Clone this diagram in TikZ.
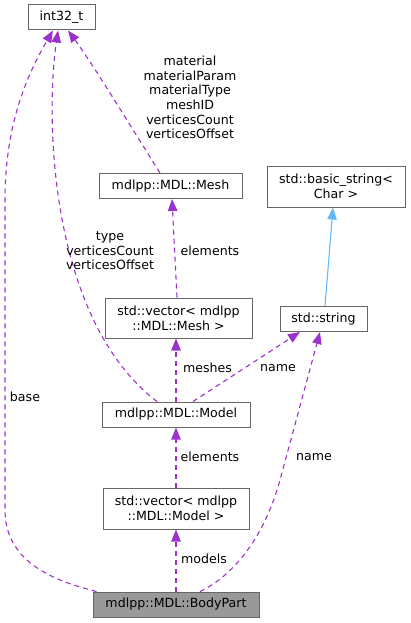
\documentclass[tikz,border=0pt]{standalone}
\usepackage{fontspec}
\setmainfont{DejaVu Sans}
\usepackage{tikz}
\usetikzlibrary{arrows.meta}
\definecolor{edgepurple}{HTML}{9A32CD}
\definecolor{inheritblue}{HTML}{63B8FF}
\definecolor{boxgrey}{HTML}{666666}
\definecolor{currentgrey}{HTML}{999999}

\begin{document}
\begin{tikzpicture}[x=1pt, y=-1pt,
    classnode/.style={rectangle, draw=boxgrey, fill=white, line width=1pt, inner sep=0pt, minimum height=25pt, align=center, font=\fontsize{12.6}{14.6}\selectfont},
    currentnode/.style={classnode, fill=currentgrey},
    usesedge/.style={draw=edgepurple, line width=1.1pt, dash pattern=on 5pt off 4pt, -{Triangle[length=12pt, width=9.5pt, fill=edgepurple]}},
    inheritedge/.style={draw=inheritblue, line width=1.1pt, -{Triangle[length=12pt, width=9.5pt, fill=inheritblue]}},
    edgelabel/.style={inner sep=0pt, align=center, font=\fontsize{12.6}{14.6}\selectfont}
]
\useasboundingbox (0,0) rectangle (411,623);
\node[classnode, minimum width=67pt](int) at (61.5,17.5){int32\_t};
\node[classnode, minimum width=143pt](mesh) at (170.5,186){mdlpp::MDL::Mesh};
\node[classnode, minimum width=138pt, minimum height=41pt](basicstr) at (336,186.5){std::basic\_string\textless\\Char \textgreater};
\node[classnode, minimum width=147pt, minimum height=40pt](vecmesh) at (178.5,318){std::vector\textless{} mdlpp\\::MDL::Mesh \textgreater};
\node[classnode, minimum width=87pt](string) at (323.5,319){std::string};
\node[classnode, minimum width=148pt](model) at (176,414.5){mdlpp::MDL::Model};
\node[classnode, minimum width=146pt, minimum height=41pt](vecmodel) at (176,508.5){std::vector\textless{} mdlpp\\::MDL::Model \textgreater};
\node[currentnode, minimum width=166pt](bodypart) at (176,604.5){mdlpp::MDL::BodyPart};
% bends of the long connectors
\coordinate (baselow) at (5,510);
\coordinate (basehigh) at (5,200);
\coordinate (namebend) at (280,480);
\draw[usesedge] ([xshift=4pt]bodypart.north west) .. controls (50,580) and (5,560) .. (baselow) -- (basehigh) .. controls (5,120) and (30,70) .. ([xshift=-8.5pt]int.south);
\draw[usesedge] ([xshift=-19pt]model.north) .. controls (50,320) and (45,120) .. ([xshift=-3.5pt]int.south);
\draw[usesedge] ([xshift=-10.5pt]mesh.north) .. controls (130,125) and (90,60) .. ([xshift=6.5pt]int.south);
\draw[usesedge] ([xshift=-1.5pt]vecmesh.north) -- ([xshift=1.5pt]mesh.south);
\draw[usesedge] (model.north) -- (vecmesh.south -| model.north);
\draw[usesedge] ([xshift=17pt]model.north) -- ([xshift=-23.5pt]string.south);
\draw[inheritedge] ([xshift=1.5pt]string.north) -- ([xshift=-3pt]basicstr.south);
\draw[usesedge] (vecmodel.north) -- (model.south);
\draw[usesedge] (bodypart.north) -- (vecmodel.south);
\draw[usesedge] ([xshift=24pt]bodypart.north) .. controls (235,575) and (265,535) .. (namebend) -- ([xshift=-3.5pt]string.south);
% member labels
\node[edgelabel](lbase) at (25,397){base};
\node[edgelabel](lmeshint) at (190,97.5){material\\materialParam\\materialType\\meshID\\verticesCount\\verticesOffset};
\node[edgelabel](lmodelint) at (110,251){type\\verticesCount\\verticesOffset};
\node[edgelabel](lmeshes) at (210,251){elements};
\node[edgelabel](lvecmesh) at (207.5,368){meshes};
\node[edgelabel](lmodelname) at (278,368){name};
\node[edgelabel](lmodels) at (210,457){elements};
\node[edgelabel](lvecmodel) at (204,559){models};
\node[edgelabel](lpartname) at (314,457){name};
\end{tikzpicture}
\end{document}
